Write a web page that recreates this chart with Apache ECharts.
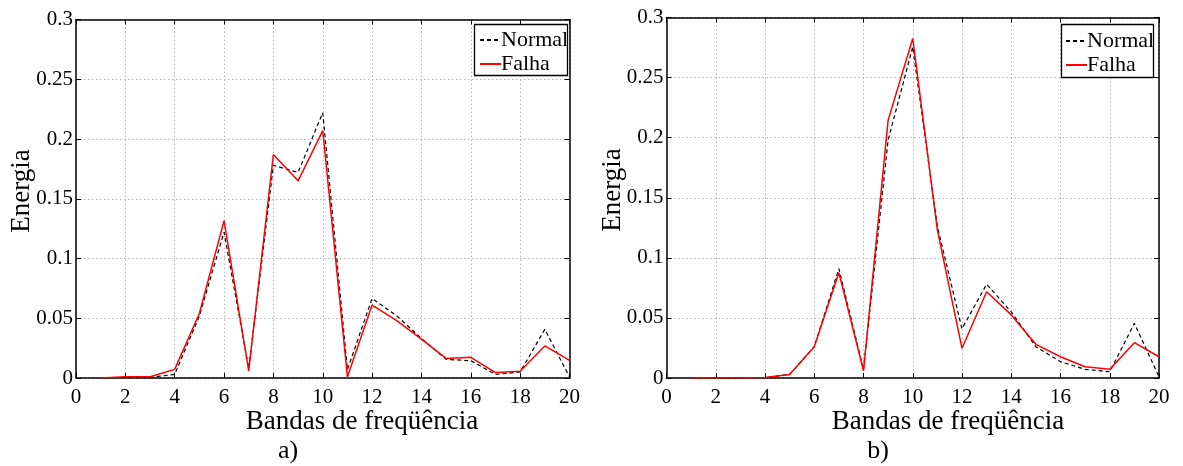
<!DOCTYPE html>
<html>
<head>
<meta charset="utf-8">
<script src="https://cdn.jsdelivr.net/npm/echarts@6/dist/echarts.min.js"></script>
<style>
html,body{margin:0;padding:0;background:#fff;}
#chart{width:1183px;height:466px;}
</style>
</head>
<body>
<div id="chart"></div>
<script>
// ---- data ----
const bands = [1,2,3,4,5,6,7,8,9,10,11,12,13,14,15,16,17,18,19,20];
const normalA = [0, 0.0005, 0.0005, 0.003, 0.052, 0.122, 0.008, 0.178, 0.172, 0.222, 0.007, 0.0666, 0.052, 0.033, 0.0156, 0.0145, 0.003, 0.005, 0.0407, 0.001];
const falhaA  = [0, 0.001, 0.001, 0.0072, 0.054, 0.1316, 0.006, 0.187, 0.165, 0.207, 0.001, 0.061, 0.048, 0.0325, 0.0164, 0.0173, 0.0045, 0.0056, 0.0268, 0.0148];
const normalB = [0, 0, 0, 0.0003, 0.003, 0.026, 0.091, 0.007, 0.198, 0.2756, 0.126, 0.041, 0.078, 0.055, 0.026, 0.0136, 0.0072, 0.0052, 0.0455, 0.001];
const falhaB  = [0, 0, 0, 0.0005, 0.003, 0.026, 0.0876, 0.006, 0.2146, 0.2825, 0.123, 0.0247, 0.0718, 0.0525, 0.028, 0.0177, 0.0094, 0.0072, 0.0294, 0.0177];
const seriesNames = ['Normal', 'Falha'];
const xLabel = 'Bandas de freqüência';
const yLabel = 'Energia';
const panelLabels = ['a)', 'b)'];

const FONT = 'Liberation Serif';
const chart = echarts.init(document.getElementById('chart'), null, {renderer: 'canvas'});

function pairs(xs, ys){ return xs.map((x,i)=>[x, ys[i]]); }

const grids = [
  {left: 76, right: 1183-569.5, top: 19.5, bottom: 466-378},
  {left: 666.5, right: 1183-1159, top: 17.5, bottom: 466-378}
];

const xAxes = [], yAxes = [];
grids.forEach((g, i) => {
  xAxes.push({
    type: 'value', gridIndex: i, min: 0, max: 20, interval: 2,
    axisLine: {show: true, onZero: false, lineStyle: {color: '#000', width: 1.5}},
    axisTick: {show: true, inside: true, length: 5, lineStyle: {color: '#000', width: 1}},
    axisLabel: {color: '#000', fontFamily: FONT, fontSize: 21, margin: 9},
    splitLine: {show: true, lineStyle: {color: '#b4b4b4', type: [1.5, 2.5], width: 1}}
  });
  xAxes.push({
    type: 'value', gridIndex: i, min: 0, max: 20, interval: 2, position: 'top',
    axisLine: {show: true, onZero: false, lineStyle: {color: '#000', width: 1.5}},
    axisTick: {show: true, inside: true, length: 5, lineStyle: {color: '#000', width: 1}},
    axisLabel: {show: false}, splitLine: {show: false}
  });
  yAxes.push({
    type: 'value', gridIndex: i, min: 0, max: 0.3, interval: 0.05,
    axisLine: {show: true, onZero: false, lineStyle: {color: '#000', width: 1.5}},
    axisTick: {show: true, inside: true, length: 5, lineStyle: {color: '#000', width: 1}},
    axisLabel: {color: '#000', fontFamily: FONT, fontSize: 21, margin: 3,
      formatter: v => String(Math.round(v*100)/100)},
    splitLine: {show: true, lineStyle: {color: '#b4b4b4', type: [1.5, 2.5], width: 1}}
  });
  yAxes.push({
    type: 'value', gridIndex: i, min: 0, max: 0.3, interval: 0.05, position: 'right',
    axisLine: {show: true, onZero: false, lineStyle: {color: '#000', width: 1.5}},
    axisTick: {show: true, inside: true, length: 5, lineStyle: {color: '#000', width: 1}},
    axisLabel: {show: false}, splitLine: {show: false}
  });
});

const datasets = [[normalA, falhaA], [normalB, falhaB]];
const series = [];
datasets.forEach((d, i) => {
  series.push({
    name: seriesNames[0], type: 'line', xAxisIndex: i*2, yAxisIndex: i*2,
    data: pairs(bands, d[0]), symbol: 'none', animation: false, z: 3,
    lineStyle: {color: '#000', width: 1.2, type: [4, 3]}, itemStyle: {color: '#000'}
  });
  series.push({
    name: seriesNames[1], type: 'line', xAxisIndex: i*2, yAxisIndex: i*2,
    data: pairs(bands, d[1]), symbol: 'none', animation: false, z: 4,
    lineStyle: {color: '#ff0000', width: 1.5, type: 'solid'}, itemStyle: {color: '#ff0000'}
  });
});

const legendBase = {
  orient: 'vertical', padding: [3, 4, 3, 3], itemGap: 2, itemWidth: 21, itemHeight: 22,
  itemStyle: {opacity: 0}, z: 10,
  textStyle: {fontFamily: FONT, fontSize: 22, color: '#000', lineHeight: 22, padding: [0, 0, 0, -5]},
  data: seriesNames, selectedMode: false
};

const boxStyle = {fill: '#fff', stroke: '#000', lineWidth: 1.3};

chart.setOption({
  animation: false,
  textStyle: {fontFamily: FONT},
  grid: grids,
  xAxis: xAxes,
  yAxis: yAxes,
  series: series,
  legend: [
    Object.assign({}, legendBase, {left: 476, top: 26}),
    Object.assign({}, legendBase, {left: 1062, top: 27})
  ],
  graphic: [
    {type: 'rect', z: 9, shape: {x: 474.5, y: 24.5, width: 93, height: 51}, style: boxStyle},
    {type: 'rect', z: 9, shape: {x: 1061.5, y: 24.5, width: 92, height: 53}, style: boxStyle},
    {type: 'text', x: 362, y: 422, style: {text: xLabel, fontFamily: FONT, fontSize: 27, fill: '#000', align: 'center', verticalAlign: 'middle'}},
    {type: 'text', x: 948, y: 422, style: {text: xLabel, fontFamily: FONT, fontSize: 27, fill: '#000', align: 'center', verticalAlign: 'middle'}},
    {type: 'text', x: 288, y: 451, style: {text: panelLabels[0], fontFamily: FONT, fontSize: 26, fill: '#000', align: 'center', verticalAlign: 'middle'}},
    {type: 'text', x: 878, y: 451, style: {text: panelLabels[1], fontFamily: FONT, fontSize: 26, fill: '#000', align: 'center', verticalAlign: 'middle'}},
    {type: 'text', x: 22, y: 191, rotation: Math.PI/2, style: {text: yLabel, fontFamily: FONT, fontSize: 27, fill: '#000', align: 'center', verticalAlign: 'middle'}},
    {type: 'text', x: 613, y: 190, rotation: Math.PI/2, style: {text: yLabel, fontFamily: FONT, fontSize: 27, fill: '#000', align: 'center', verticalAlign: 'middle'}}
  ]
});
</script>
</body>
</html>
